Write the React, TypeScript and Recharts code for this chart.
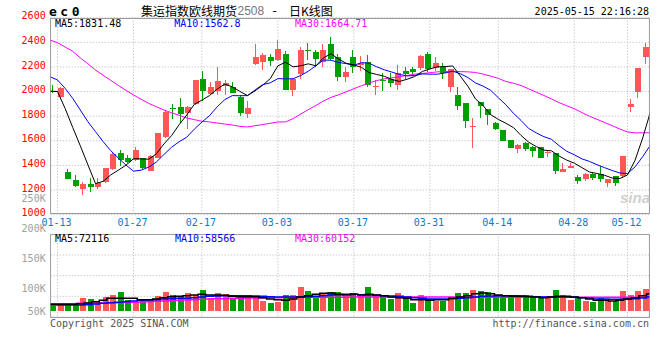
import React from 'react'
import { ComposedChart, Bar, Line, XAxis, YAxis, CartesianGrid } from 'recharts'

// trading days shown, 01-10 .. 05-15
const DATES = [
  '01-10', '01-13', '01-14', '01-15', '01-16', '01-17', '01-20', '01-21', '01-22', '01-23', '01-24', '01-27',
  '02-05', '02-06', '02-07', '02-10', '02-11', '02-12', '02-13', '02-14', '02-17', '02-18', '02-19', '02-20',
  '02-21', '02-24', '02-25', '02-26', '02-27', '02-28',
  '03-03', '03-04', '03-05', '03-06', '03-07', '03-10', '03-11', '03-12', '03-13', '03-14', '03-17', '03-18',
  '03-19', '03-20', '03-21', '03-24', '03-25', '03-26', '03-27', '03-28', '03-31',
  '04-01', '04-02', '04-03', '04-07', '04-08', '04-09', '04-10', '04-11', '04-14', '04-15', '04-16', '04-17',
  '04-18', '04-21', '04-22', '04-23', '04-24', '04-25', '04-28', '04-29', '04-30',
  '05-06', '05-07', '05-08', '05-09', '05-12', '05-13', '05-14', '05-15',
]
const DATE_TICKS = ['01-13', '01-27', '02-17', '03-03', '03-17', '03-31', '04-14', '04-28', '05-12']

const OPEN = [
  2008, 1958, 1344, 1281, 1208, 1249, 1227, 1268, 1368, 1498,
  1463, 1444, 1457, 1357, 1463, 1628, 1863, 1872, 1823, 1899,
  2102, 1980, 2004, 2045, 2034, 1958, 1815, 2224, 2243, 2278,
  2256, 2305, 2013, 2143, 2335, 2319, 2243, 2386, 2283, 2121,
  2278, 2216, 2237, 2034, 2094, 2099, 2053, 2167, 2183, 2194,
  2305, 2194, 2197, 2034, 1972, 1910, 1712, 1918, 1858, 1742,
  1688, 1606, 1530, 1579, 1552, 1552, 1498, 1503, 1349, 1382,
  1308, 1290, 1327, 1330, 1254, 1314, 1314, 1877, 2000, 2283,
]
const HIGH = [
  2053, 2035, 1368, 1322, 1268, 1295, 1295, 1379, 1512, 1525,
  1485, 1547, 1463, 1485, 1661, 1850, 1899, 1945, 1880, 2094,
  2167, 2080, 2202, 2094, 2075, 1972, 1923, 2386, 2310, 2305,
  2419, 2332, 2107, 2359, 2392, 2338, 2386, 2446, 2305, 2202,
  2338, 2289, 2297, 2094, 2148, 2153, 2216, 2197, 2202, 2300,
  2321, 2278, 2229, 2185, 2040, 1910, 1782, 1918, 1858, 1755,
  1688, 1606, 1571, 1593, 1558, 1552, 1520, 1503, 1422, 1422,
  1322, 1336, 1349, 1395, 1290, 1314, 1476, 1939, 2194, 2392,
]
const LOW = [
  1985, 1950, 1290, 1227, 1162, 1184, 1206, 1254, 1363, 1398,
  1422, 1438, 1368, 1354, 1457, 1620, 1774, 1742, 1698, 1893,
  1926, 1972, 1972, 1972, 1985, 1801, 1782, 2218, 2175, 2208,
  2251, 2013, 1967, 2102, 2256, 2202, 2202, 2256, 2088, 2080,
  2153, 2170, 2034, 1972, 2007, 2040, 2013, 2099, 2134, 2175,
  2162, 2170, 2102, 1999, 1850, 1707, 1539, 1782, 1728, 1688,
  1601, 1544, 1503, 1520, 1466, 1457, 1471, 1330, 1349, 1376,
  1249, 1276, 1281, 1268, 1222, 1233, 1295, 1837, 1950, 2221,
]
const CLOSE = [
  1998, 2026, 1290, 1233, 1249, 1227, 1260, 1379, 1493, 1444,
  1428, 1525, 1376, 1476, 1661, 1834, 1858, 1820, 1872, 2094,
  2007, 2040, 2086, 2072, 1985, 1823, 1869, 2283, 2297, 2251,
  2346, 2013, 2099, 2338, 2330, 2264, 2338, 2264, 2121, 2159,
  2202, 2235, 2053, 2045, 2086, 2072, 2153, 2143, 2156, 2289,
  2181, 2235, 2153, 2180, 1883, 1763, 1720, 1883, 1809, 1696,
  1601, 1544, 1566, 1533, 1520, 1457, 1512, 1357, 1368, 1398,
  1276, 1330, 1300, 1290, 1290, 1254, 1476, 1899, 2194, 2359,
]

const MA5 = [
  2004, 2000, 1863, 1709, 1559, 1405, 1252, 1270, 1322, 1361,
  1401, 1454, 1453, 1450, 1493, 1574, 1641, 1730, 1809, 1896,
  1930, 1967, 2020, 2060, 2038, 2001, 1967, 2006, 2051, 2105,
  2209, 2238, 2201, 2209, 2225, 2209, 2274, 2307, 2263, 2229,
  2217, 2196, 2154, 2139, 2124, 2098, 2082, 2100, 2122, 2163,
  2184, 2201, 2203, 2208, 2126, 2043, 1940, 1886, 1812, 1774,
  1742, 1707, 1643, 1588, 1553, 1524, 1518, 1476, 1443, 1418,
  1382, 1346, 1334, 1319, 1297, 1293, 1322, 1442, 1623, 1831,
]
const MA10 = [
  2121, 2094, 2026, 1945, 1850, 1755, 1674, 1593, 1520, 1460,
  1403, 1353, 1361, 1386, 1427, 1488, 1547, 1592, 1629, 1694,
  1752, 1804, 1875, 1934, 1967, 1966, 1967, 2013, 2056, 2071,
  2105, 2103, 2104, 2130, 2165, 2209, 2256, 2254, 2236, 2227,
  2213, 2235, 2230, 2201, 2177, 2158, 2139, 2127, 2130, 2143,
  2141, 2141, 2151, 2165, 2145, 2114, 2070, 2044, 2010, 1950,
  1892, 1823, 1765, 1700, 1664, 1633, 1612, 1560, 1515, 1486,
  1453, 1432, 1405, 1381, 1358, 1338, 1334, 1388, 1471, 1563,
]
const MA30 = [
  2419, 2397, 2362, 2327, 2273, 2226, 2175, 2132, 2091, 2050,
  2010, 1972, 1937, 1904, 1877, 1850, 1828, 1807, 1785, 1772,
  1758, 1753, 1744, 1736, 1728, 1717, 1712, 1722, 1732, 1742,
  1753, 1753, 1780, 1817, 1853, 1887, 1923, 1953, 1974, 1998,
  2023, 2047, 2070, 2089, 2103, 2111, 2121, 2131, 2141, 2147,
  2153, 2160, 2162, 2165, 2162, 2160, 2155, 2142, 2125, 2107,
  2082, 2067, 2049, 2022, 1995, 1968, 1940, 1910, 1885, 1860,
  1829, 1799, 1774, 1748, 1722, 1695, 1672, 1664, 1665, 1665,
]

const VOLUME = [
  75000, 77400, 80000, 80000, 88400, 86200, 80700, 90000, 92900, 98400,
  84000, 81700, 86200, 86200, 91700, 98400, 92900, 90000, 96200, 92900,
  101200, 88400, 96200, 94500, 88400, 92900, 91200, 91200, 82900, 80000,
  81700, 92900, 92900, 106700, 99500, 91200, 96200, 98400, 98400, 91700,
  96200, 91700, 106700, 91700, 91700, 86200, 96200, 86200, 79500, 92900,
  86200, 82900, 82900, 86200, 96200, 96200, 101700, 99500, 98400, 91200,
  91200, 91200, 92900, 92900, 87400, 87400, 91200, 101200, 92900, 84500,
  88400, 82900, 81200, 89500, 82900, 82900, 99500, 92900, 99500, 102900,
]
const VOL_MA5 = [
  77300, 77300, 77300, 77300, 78400, 79500, 81700, 84000, 87300, 87300,
  87300, 87300, 85100, 85100, 86200, 88400, 90100, 90600, 91700, 92800,
  94000, 92800, 92800, 92300, 90600, 90100, 90100, 90100, 88400, 86200,
  85000, 84000, 86200, 89500, 91700, 94000, 95600, 96200, 94000, 92800,
  94000, 92800, 94000, 92800, 91700, 89500, 88400, 87300, 85100, 85100,
  84000, 85100, 85100, 87300, 89500, 91700, 95100, 96200, 95100, 92800,
  91700, 90600, 90600, 90100, 89500, 88400, 89500, 90600, 90600, 89500,
  88400, 86200, 84000, 84000, 82800, 84000, 86200, 88400, 91700, 94500,
]
const VOL_MA10 = [
  76200, 76200, 76200, 76200, 76200, 76700, 77800, 78900, 80100, 80600,
  81700, 82800, 84000, 84500, 85100, 86200, 86700, 87300, 87300, 88400,
  89500, 90600, 91200, 91700, 91700, 91700, 91700, 91200, 90600, 90100,
  89500, 89500, 89500, 90100, 90100, 90600, 91700, 92800, 93400, 94000,
  94000, 93400, 92800, 92300, 91700, 91200, 90600, 89500, 88400, 87300,
  86200, 86200, 86200, 86700, 87300, 88400, 89500, 90600, 91200, 91700,
  91700, 91700, 91200, 90600, 90100, 89500, 89500, 89500, 89500, 89000,
  88400, 87300, 86200, 86200, 85600, 85600, 86200, 86700, 87800, 89500,
]
const VOL_MA30 = [
  78400, 78400, 78400, 78400, 78900, 78900, 79500, 79500, 80100, 80100,
  80600, 80600, 81200, 81700, 82300, 82800, 83400, 84000, 84500, 85100,
  85600, 86200, 86700, 86700, 87300, 87300, 87800, 87800, 88400, 88400,
  88400, 89000, 89000, 89000, 89000, 89000, 89000, 89000, 89000, 89000,
  89500, 89500, 89500, 89500, 89500, 89500, 89500, 89500, 89500, 89500,
  89500, 89500, 89500, 89500, 89500, 89500, 89000, 89000, 89000, 89000,
  89000, 89000, 89000, 89000, 89000, 89000, 89000, 89000, 89000, 89000,
  89000, 89000, 89000, 89000, 89000, 89000, 89000, 89000, 89000, 89500,
]
const VOL_FLOOR = 66000

const PRICE_TICKS = [1000, 1200, 1400, 1600, 1800, 2000, 2200, 2400, 2600]
const VOL_TICKS = [50000, 100000, 150000, 200000, 250000]

const MONO = '"DejaVu Sans Mono", "Liberation Mono", monospace'
const RED = '#FF5656'
const GREEN = '#00A000'
const GRID = '#B4B4B4'

// candles and lines sit on slightly different x steps, like the original
const CANDLE_X = [-0.307, 79.51]
const LINE_X = [0.105, 78.87]
const VOL_Y = [56167, 194000]
// the volume panel is split in four equal bands
const VOL_BANDS = [0, 1, 2, 3, 4].map(k => VOL_Y[0] + ((VOL_Y[1] - VOL_Y[0]) * k) / 4)

const rows = DATES.map((d, i) => ({
  i,
  date: d,
  open: OPEN[i],
  high: HIGH[i],
  low: LOW[i],
  close: CLOSE[i],
  range: [LOW[i], HIGH[i]],
  ma5: MA5[i],
  ma10: MA10[i],
  ma30: MA30[i],
  vol: [VOL_FLOOR, VOLUME[i]],
  vma5: VOL_MA5[i],
  vma10: VOL_MA10[i],
  vma30: VOL_MA30[i],
}))
const dateTicks = DATE_TICKS.map(d => DATES.indexOf(d))

function Candle(props: any) {
  const { x, y, width, height, payload } = props
  const top0 = height >= 0 ? y : y + height
  const h = Math.abs(height)
  const { open, close, high, low } = payload
  const color = close >= open ? RED : GREEN
  const span = high - low || 1
  const yOf = (v: number) => top0 + ((high - v) / span) * h
  const bx = Math.round(x)
  const cx = bx + Math.floor(width / 2) - 1
  const bTop = yOf(Math.max(open, close))
  const bBot = yOf(Math.min(open, close))
  return (
    <g shapeRendering="crispEdges">
      <rect x={cx} y={top0} width={1} height={Math.max(h, 1)} fill={color} />
      <rect x={bx} y={bTop} width={width} height={Math.max(bBot - bTop, 1)} fill={color} />
    </g>
  )
}

function VolBar(props: any) {
  const { x, y, width, height, payload } = props
  const top0 = height >= 0 ? y : y + height
  return (
    <rect x={Math.round(x)} y={top0} width={width} height={Math.abs(height)}
      fill={payload.close >= payload.open ? RED : GREEN} shapeRendering="crispEdges" />
  )
}

const PriceTick = ({ x, y, payload }: any) => (
  <text x={x} y={y + 1.7} textAnchor="end" fill="#FF0000" fontSize={10} fontFamily={MONO}>{payload.value}</text>
)

// the lowest volume label is kept inside the panel
const VOL_LABEL_MAX = 123
const VolTick = ({ x, y, payload }: any) => (
  <text x={x} y={Math.min(y, VOL_LABEL_MAX) + 1.7} textAnchor="end" fill="#A0A0A0" fontSize={10} fontFamily={MONO}>
    {`${payload.value / 1000}K`}
  </text>
)

// date labels hang from the top edge of the volume panel
const DateTick = ({ x, y, payload }: any) => (
  <text x={x - 1} y={y - 8.7} textAnchor="middle" fill="#0A78D0" fontSize={10} fontFamily={MONO}>{DATES[payload.value]}</text>
)

const NoTick = () => <g />

const Txt = ({ x, right, y, color = '#000', size = 10, font = MONO, weight = 400, spacing, children }: any) => (
  <div style={{
    position: 'absolute', top: y - size * 0.58, left: right === undefined ? x : undefined,
    right: right === undefined ? undefined : 660 - right, fontSize: size, lineHeight: `${size * 1.2}px`,
    fontFamily: font, color, fontWeight: weight, whiteSpace: 'pre', letterSpacing: spacing,
  }}>{children}</div>
)

export default function App() {
  return (
    <div style={{ position: 'absolute', left: 0, top: 0, width: 660, height: 360, background: '#fff', overflow: 'hidden', fontFamily: MONO }}>
      <div style={{ position: 'absolute', left: 50, top: 18, width: 600, height: 196, border: '1px solid #999', boxSizing: 'border-box' }} />
      <div style={{ position: 'absolute', left: 50, top: 234, width: 600, height: 84, border: '1px solid #999', boxSizing: 'border-box' }} />

      <div style={{ position: 'absolute', left: 0, top: 0 }}>
        <ComposedChart width={660} height={220} data={rows} margin={{ top: 17.7, right: 10.7, bottom: 4.4, left: 0 }}>
          <CartesianGrid xAxisId="l" yAxisId="p" stroke={GRID} strokeDasharray="1 2" />
          <XAxis xAxisId="c" dataKey="i" type="number" domain={CANDLE_X} allowDataOverflow hide />
          <XAxis xAxisId="l" dataKey="i" type="number" domain={LINE_X} allowDataOverflow ticks={dateTicks} interval={0}
            axisLine={false} tickLine={false} tickSize={0} tickMargin={0} height={1} tick={<NoTick />} />
          <YAxis yAxisId="p" type="number" domain={[1000, 2600]} allowDataOverflow ticks={PRICE_TICKS} interval={0}
            width={50.7} axisLine={false} tickLine={false} tickSize={0} tickMargin={5} tick={<PriceTick />} />
          <Bar xAxisId="c" yAxisId="p" dataKey="range" barSize={6} shape={<Candle />} isAnimationActive={false} />
          <Line xAxisId="l" yAxisId="p" dataKey="ma30" stroke="#FF00FF" strokeWidth={1} dot={false} isAnimationActive={false} />
          <Line xAxisId="l" yAxisId="p" dataKey="ma10" stroke="#0000FF" strokeWidth={1} dot={false} isAnimationActive={false} />
          <Line xAxisId="l" yAxisId="p" dataKey="ma5" stroke="#000000" strokeWidth={1} dot={false} isAnimationActive={false} />
        </ComposedChart>
      </div>

      <div style={{ position: 'absolute', left: 0, top: 190 }}>
        <ComposedChart width={660} height={140} data={rows} margin={{ top: 29.3, right: 10.7, bottom: 13, left: 0 }}>
          <CartesianGrid xAxisId="l" yAxisId="v" stroke={GRID} strokeDasharray="1 2" horizontalValues={VOL_BANDS} />
          <XAxis xAxisId="c" dataKey="i" type="number" domain={CANDLE_X} allowDataOverflow hide />
          <XAxis xAxisId="l" orientation="top" dataKey="i" type="number" domain={LINE_X} allowDataOverflow ticks={dateTicks} interval={0}
            height={15} axisLine={false} tickLine={false} tickSize={0} tickMargin={0} tick={<DateTick />} />
          <YAxis yAxisId="v" type="number" domain={VOL_Y} allowDataOverflow ticks={VOL_TICKS} interval={0}
            width={50.7} axisLine={false} tickLine={false} tickSize={0} tickMargin={5} tick={<VolTick />} />
          <Bar xAxisId="c" yAxisId="v" dataKey="vol" barSize={6} shape={<VolBar />} isAnimationActive={false} />
          <Line xAxisId="l" yAxisId="v" type="step" dataKey="vma30" stroke="#FF00FF" strokeWidth={1.5} dot={false} isAnimationActive={false} />
          <Line xAxisId="l" yAxisId="v" type="step" dataKey="vma10" stroke="#0000FF" strokeWidth={1.5} dot={false} isAnimationActive={false} />
          <Line xAxisId="l" yAxisId="v" type="step" dataKey="vma5" stroke="#000000" strokeWidth={1.5} dot={false} isAnimationActive={false} />
        </ComposedChart>
      </div>

      <Txt x={49} y={11.5} size={13} weight={700} spacing="3.5px">ec0</Txt>
      <Txt x={141} y={10.5} size={12} font='"Noto Sans CJK SC", sans-serif'>集运指数欧线期货</Txt>
      <Txt x={237.5} y={11} size={12} font='"Liberation Sans", Arial, sans-serif' color="#777">2508</Txt>
      <Txt x={271} y={10.5} size={12}>-</Txt>
      <Txt x={289} y={10.5} size={12} font='"Noto Sans CJK SC", sans-serif'>日K线图</Txt>
      <Txt right={649} y={11.7}>2025-05-15 22:16:28</Txt>

      <Txt x={55} y={23.7}>MA5:1831.48</Txt>
      <Txt x={174.3} y={23.7} color="#0000FF">MA10:1562.8</Txt>
      <Txt x={295} y={23.7} color="#FF00FF">MA30:1664.71</Txt>

      <Txt x={55} y={238.3}>MA5:72116</Txt>
      <Txt x={175} y={238.3} color="#0000FF">MA10:58566</Txt>
      <Txt x={295} y={238.3} color="#FF00FF">MA30:60152</Txt>

      <Txt x={620} y={198} size={15} weight={700} font='"Liberation Sans", Arial, sans-serif' color="#D0D0D0">
        <i>sina</i>
      </Txt>

      <Txt x={50} y={324} color="#555">Copyright 2025 SINA.COM</Txt>
      <Txt right={649} y={324} color="#555">http://finance.sina.com.cn</Txt>
    </div>
  )
}
